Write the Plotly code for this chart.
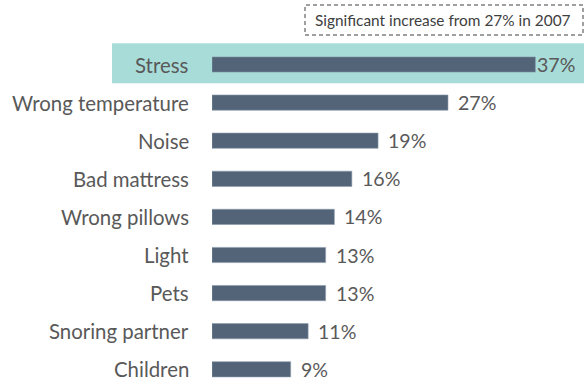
import plotly.graph_objects as go

# Reasons for poor sleep, share of respondents (%)
causes = ["Stress", "Wrong temperature", "Noise", "Bad mattress", "Wrong pillows",
          "Light", "Pets", "Snoring partner", "Children"]
shares = [37, 27, 19, 16, 14, 13, 13, 11, 9]
note = "Significant increase from 27% in 2007"

W, H = 584, 385
LEFT = 212                 # px where bars start
PX_PER_PCT = 8.74          # horizontal scale
ROW = 38.1                 # px between row centres
FIRST_ROW = 64.5           # px of first row centre from top

plot_w = W - LEFT
x_max = plot_w / PX_PER_PCT
top_units = FIRST_ROW / ROW
y_range = [H / ROW - top_units, -top_units]

BAR = "#536479"
TEXT = "#595959"
FONT = "Lato"

fig = go.Figure()
fig.add_trace(go.Bar(
    x=shares, y=list(range(len(causes))), orientation="h",
    marker=dict(color=BAR, line=dict(color="#8c9aab", width=0.6)),
    width=0.4, hoverinfo="skip",
))

# highlight band behind the top row
fig.add_shape(type="rect", xref="paper", yref="y", layer="below",
              x0=(112 - LEFT) / plot_w, x1=1.0,
              y0=-0.56, y1=0.49,
              fillcolor="#a8dcd8", line=dict(width=0))

# dashed note box
fig.add_shape(type="rect", xref="paper", yref="paper",
              x0=(305 - LEFT) / plot_w, x1=(583 - LEFT) / plot_w,
              y0=1 - 35 / H, y1=1 - 5 / H,
              line=dict(color="#404040", width=1, dash="4px,3px"),
              fillcolor="rgba(0,0,0,0)")
fig.add_annotation(xref="paper", yref="paper",
                   x=(443 - LEFT) / plot_w, y=1 - 20 / H,
                   text=note, showarrow=False,
                   font=dict(family=FONT, size=15.4, color="#404040"),
                   xanchor="center", yanchor="middle")

# category labels and value labels
for i, (c, v) in enumerate(zip(causes, shares)):
    fig.add_annotation(xref="paper", yref="y", x=(191 - LEFT) / plot_w, y=i,
                       text=c, showarrow=False, xanchor="right", yanchor="middle",
                       font=dict(family=FONT, size=20.4, color=TEXT))
    fig.add_annotation(xref="x", yref="y", x=v, y=i,
                       text=f"{v}%", showarrow=False, xanchor="left", yanchor="middle",
                       xshift=0 if i == 0 else 8,
                       font=dict(family=FONT, size=19.6, color=TEXT))

fig.update_layout(
    width=W, height=H,
    margin=dict(l=LEFT, r=0, t=0, b=0),
    paper_bgcolor="white", plot_bgcolor="white",
    showlegend=False,
    xaxis=dict(range=[0, x_max], visible=False, fixedrange=True),
    yaxis=dict(range=y_range, visible=False, fixedrange=True),
)

fig.write_html("out.html", config={"displayModeBar": False})
